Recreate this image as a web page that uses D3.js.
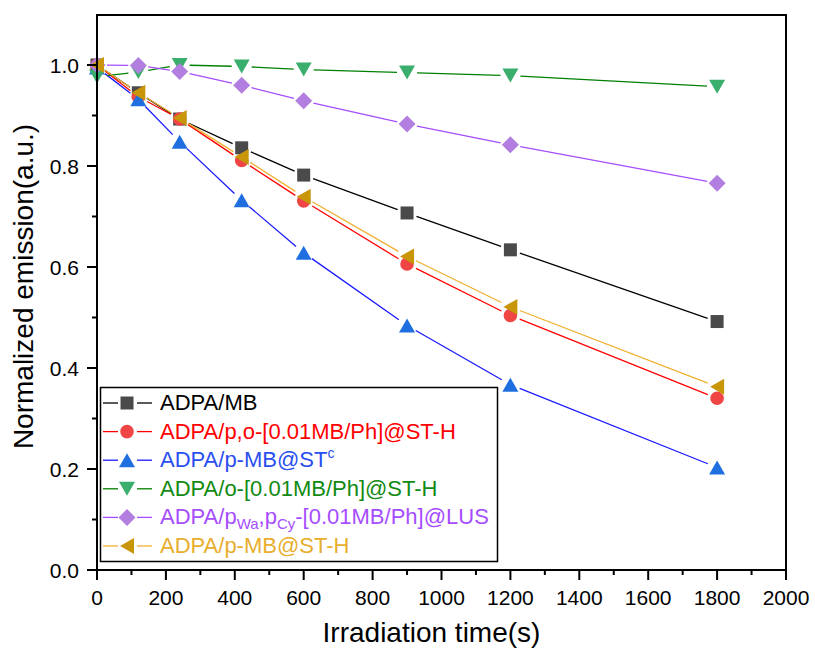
<!DOCTYPE html>
<html>
<head>
<meta charset="utf-8">
<script src="https://cdn.jsdelivr.net/npm/d3@7"></script>
<style>
  html, body { margin: 0; padding: 0; background: #fff; }
  svg text { font-family: Arial, "Liberation Sans", Helvetica, sans-serif; }
</style>
</head>
<body>
<svg id="chart" width="815" height="648"></svg>
<script>
// Irradiation times (s)
const times = [0, 120, 240, 420, 600, 900, 1200, 1800];

// Normalized emission for each sample
const adpaMB      = [1.000, 0.945, 0.893, 0.836, 0.782, 0.707, 0.634, 0.492];
const adpaPoST_H  = [1.000, 0.937, 0.893, 0.811, 0.731, 0.606, 0.504, 0.340];
const adpaPMB_STc = [0.995, 0.932, 0.848, 0.732, 0.628, 0.484, 0.367, 0.203];
const adpaO_ST_H  = [0.977, 0.986, 1.000, 0.997, 0.991, 0.985, 0.979, 0.957];
const adpaLUS     = [1.000, 0.999, 0.987, 0.960, 0.929, 0.883, 0.842, 0.766];
const adpaPMB_STH = [1.000, 0.945, 0.895, 0.818, 0.739, 0.621, 0.521, 0.363];

// Axis ticks
const xTicks = [0, 200, 400, 600, 800, 1000, 1200, 1400, 1600, 1800, 2000];
const yTicks = [0.0, 0.2, 0.4, 0.6, 0.8, 1.0];

const svg = d3.select("#chart");
const L = 97, R = 786, T = 15, B = 570;

const x = d3.scaleLinear().domain([0, 2000]).range([L, R]);
const y = d3.scaleLinear().domain([0, 1.1]).range([B, T - 0.5]);

// Series styling
const series = [
  { values: adpaMB,      line: "#000000", fill: "#4a4a4a", shape: "square",   text: "#000000",
    label: [{ t: "ADPA/MB" }] },
  { values: adpaPoST_H,  line: "#ff0000", fill: "#f04545", shape: "circle",   text: "#ff0000",
    label: [{ t: "ADPA/p,o-[0.01MB/Ph]@ST-H" }] },
  { values: adpaPMB_STc, line: "#1a1aff", fill: "#1f6fe0", shape: "triUp",    text: "#2a4ff0",
    label: [{ t: "ADPA/p-MB@ST" }, { t: "c", sup: true }] },
  { values: adpaO_ST_H,  line: "#008000", fill: "#3aae6c", shape: "triDown",  text: "#118a11",
    label: [{ t: "ADPA/o-[0.01MB/Ph]@ST-H" }] },
  { values: adpaLUS,     line: "#a64dff", fill: "#b27ee0", shape: "diamond",  text: "#a64dff",
    label: [{ t: "ADPA/p" }, { t: "Wa", sub: true }, { t: ",p" }, { t: "Cy", sub: true }, { t: "-[0.01MB/Ph]@LUS" }] },
  { values: adpaPMB_STH, line: "#f0b030", fill: "#c9960a", shape: "triLeft",  text: "#e8ae2c",
    label: [{ t: "ADPA/p-MB@ST-H" }] }
];

// Marker outlines centred on (0,0)
function shapePath(shape) {
  const p = d3.path();
  switch (shape) {
    case "square":  p.rect(-6.5, -6.5, 13, 13); break;
    case "circle":  p.arc(0, 0, 6.8, 0, 2 * Math.PI); break;
    case "triUp":   p.moveTo(0, -7); p.lineTo(8, 7); p.lineTo(-8, 7); p.closePath(); break;
    case "triDown": p.moveTo(0, 7); p.lineTo(8, -7); p.lineTo(-8, -7); p.closePath(); break;
    case "diamond": p.moveTo(0, -8.5); p.lineTo(8.5, 0); p.lineTo(0, 8.5); p.lineTo(-8.5, 0); p.closePath(); break;
    case "triLeft": p.moveTo(-7, 0); p.lineTo(7, -8); p.lineTo(7, 8); p.closePath(); break;
  }
  return p.toString();
}

// Line segments that stop short of each marker
const gap = 10;
series.forEach(s => {
  const g = svg.append("g");
  for (let i = 0; i < times.length - 1; i++) {
    const x1 = x(times[i]), y1 = y(s.values[i]);
    const x2 = x(times[i + 1]), y2 = y(s.values[i + 1]);
    const len = Math.hypot(x2 - x1, y2 - y1);
    if (len <= 2 * gap) continue;
    const ux = (x2 - x1) / len, uy = (y2 - y1) / len;
    g.append("line")
      .attr("x1", x1 + ux * gap).attr("y1", y1 + uy * gap)
      .attr("x2", x2 - ux * gap).attr("y2", y2 - uy * gap)
      .attr("stroke", s.line).attr("stroke-width", 1.3);
  }
});

series.forEach(s => {
  svg.append("g").selectAll("path")
    .data(times.map((t, i) => [t, s.values[i]]))
    .join("path")
    .attr("d", shapePath(s.shape))
    .attr("transform", d => `translate(${x(d[0])},${y(d[1])})`)
    .attr("fill", s.fill);
});

// Frame
svg.append("rect")
  .attr("x", L).attr("y", T).attr("width", R - L).attr("height", B - T)
  .attr("fill", "none").attr("stroke", "#000").attr("stroke-width", 2);

// Bottom axis
const xAxis = svg.append("g").attr("transform", `translate(0,${B})`);
xAxis.selectAll("line.minor")
  .data(d3.range(100, 2000, 200))
  .join("line").attr("class", "minor")
  .attr("x1", d => x(d)).attr("x2", d => x(d))
  .attr("y1", 0).attr("y2", 5)
  .attr("stroke", "#000").attr("stroke-width", 2);
xAxis.selectAll("line.major")
  .data(xTicks)
  .join("line").attr("class", "major")
  .attr("x1", d => x(d)).attr("x2", d => x(d))
  .attr("y1", 0).attr("y2", 10)
  .attr("stroke", "#000").attr("stroke-width", 2);
xAxis.selectAll("text")
  .data(xTicks)
  .join("text")
  .attr("x", d => x(d)).attr("y", 35)
  .attr("text-anchor", "middle")
  .attr("font-size", 21)
  .attr("fill", "#000")
  .text(d => d3.format("d")(d));

// Left axis
const yAxis = svg.append("g").attr("transform", `translate(${L},0)`);
yAxis.selectAll("line.minor")
  .data(d3.range(0.1, 1.1, 0.2))
  .join("line").attr("class", "minor")
  .attr("y1", d => y(d)).attr("y2", d => y(d))
  .attr("x1", 0).attr("x2", -5)
  .attr("stroke", "#000").attr("stroke-width", 2);
yAxis.selectAll("line.major")
  .data(yTicks)
  .join("line").attr("class", "major")
  .attr("y1", d => y(d)).attr("y2", d => y(d))
  .attr("x1", 0).attr("x2", -10)
  .attr("stroke", "#000").attr("stroke-width", 2);
yAxis.selectAll("text")
  .data(yTicks)
  .join("text")
  .attr("x", -18).attr("y", d => y(d) + 8)
  .attr("text-anchor", "end")
  .attr("font-size", 21)
  .attr("fill", "#000")
  .text(d => d3.format(".1f")(d));

// Axis titles
svg.append("text")
  .attr("x", (L + R) / 2 - 10).attr("y", 642)
  .attr("text-anchor", "middle")
  .attr("font-size", 28)
  .attr("fill", "#000")
  .text("Irradiation time(s)");

svg.append("text")
  .attr("transform", `translate(33,${(T + B) / 2 - 6}) rotate(-90)`)
  .attr("text-anchor", "middle")
  .attr("font-size", 28)
  .attr("fill", "#000")
  .text("Normalized emission(a.u.)");

// Legend
const lg = svg.append("g");
lg.append("rect")
  .attr("x", 100.5).attr("y", 387.5).attr("width", 397).attr("height", 174)
  .attr("fill", "#fff").attr("stroke", "#000").attr("stroke-width", 1.5);

series.forEach((s, i) => {
  const base = 410 + i * 28.6;
  const cy = base - 7;
  lg.append("line").attr("x1", 103).attr("x2", 118).attr("y1", cy).attr("y2", cy)
    .attr("stroke", s.line).attr("stroke-width", 1.3);
  lg.append("line").attr("x1", 137).attr("x2", 152).attr("y1", cy).attr("y2", cy)
    .attr("stroke", s.line).attr("stroke-width", 1.3);
  lg.append("path").attr("d", shapePath(s.shape))
    .attr("transform", `translate(127,${cy})`).attr("fill", s.fill);
  const txt = lg.append("text")
    .attr("x", 160).attr("y", base)
    .attr("font-size", 22)
    .attr("fill", s.text);
  s.label.forEach(part => {
    const ts = txt.append("tspan").text(part.t);
    if (part.sub) ts.attr("font-size", 15).attr("dy", 5);
    else if (part.sup) ts.attr("font-size", 14).attr("dy", -9);
  });
  // reset baseline after sub/superscript runs
  let shift = 0;
  txt.selectAll("tspan").each(function(d, j) {
    const part = s.label[j];
    const t = d3.select(this);
    if (part.sub) { t.attr("dy", 5 - shift); shift = 5; }
    else if (part.sup) { t.attr("dy", -9 - shift); shift = -9; }
    else if (shift !== 0) { t.attr("dy", -shift); shift = 0; }
  });
});
</script>
</body>
</html>
